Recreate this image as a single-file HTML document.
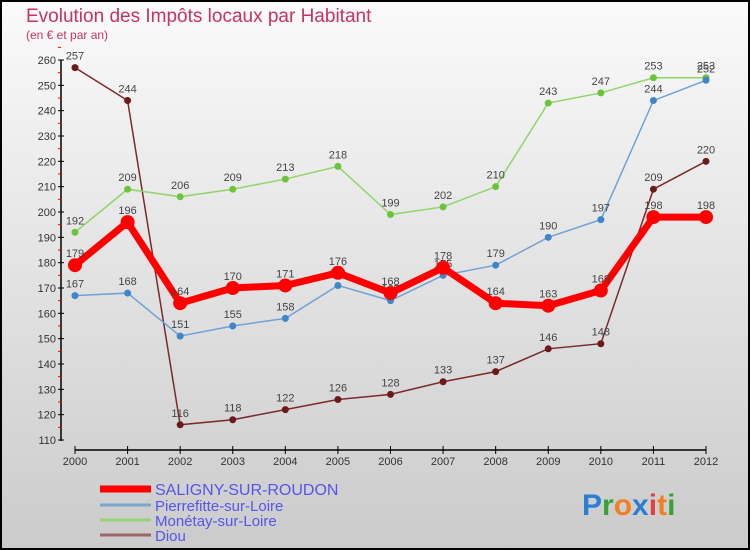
<!DOCTYPE html>
<html><head><meta charset="utf-8"><style>
body{margin:0}
#c{width:750px;height:550px;position:relative;box-sizing:border-box;border:2px solid #000;background:linear-gradient(#fafafa,#cbcbcb);font-family:"Liberation Sans",sans-serif;overflow:hidden}
</style></head><body>
<div id="c">
<svg id="s" width="750" height="550" style="position:absolute;left:-2px;top:-2px"></svg>
</div>
<script>
const years=["2000","2001","2002","2003","2004","2005","2006","2007","2008","2009","2010","2011","2012"];
const yTicks=[110,120,130,140,150,160,170,180,190,200,210,220,230,240,250,260];
const saligny=[179,196,164,170,171,176,168,178,164,163,169,198,198];
const pierrefitte=[167,168,151,155,158,171,165,175,179,190,197,244,252];
const monetay=[192,209,206,209,213,218,199,202,210,243,247,253,253];
const diou=[257,244,116,118,122,126,128,133,137,146,148,209,220];
const NS="http://www.w3.org/2000/svg";
const s=document.getElementById('s');
function X(i){return 75+i*(706-75)/12;}
function Y(v){return 440-(v-110)*380/150;}
function el(t,a,txt){const e=document.createElementNS(NS,t);for(const k in a)e.setAttribute(k,a[k]);if(txt!==undefined)e.textContent=txt;s.appendChild(e);return e;}
let e;
e=el('text',{x:26,y:22,fill:'#c8335f','font-size':19},'Evolution des Impôts locaux par Habitant');


e=el('text',{x:26,y:39,fill:'#c8335f','font-size':12},'(en € et par an)');


e=el('line',{x1:61,y1:60,x2:61,y2:441,stroke:'#000','stroke-width':1.5});


yTicks.forEach(v=>{
 el('line',{x1:58,y1:Y(v),x2:64,y2:Y(v),stroke:'#000'});
 el('line',{x1:58,y1:Y(v+5),x2:61,y2:Y(v+5),stroke:'#f00'});
 e=el('text',{x:56,y:Y(v)+4,'text-anchor':'end','font-size':11,fill:'#333'},v);
 
 
});
e=el('line',{x1:75,y1:450,x2:706,y2:450,stroke:'#000','stroke-width':1.5});


years.forEach((y,i)=>{
 el('line',{x1:X(i),y1:446,x2:X(i),y2:454,stroke:'#000'});
 e=el('text',{x:X(i),y:465,'text-anchor':'middle','font-size':11,fill:'#333'},y);
 
 
});
function series(d,color,w,r,name,dot){
 const g=document.createElementNS(NS,'g');s.appendChild(g);
 
 
 const pl=document.createElementNS(NS,'polyline');
 pl.setAttribute('points',d.map((v,i)=>X(i)+','+Y(v)).join(' '));
 pl.setAttribute('fill','none');pl.setAttribute('stroke',color);pl.setAttribute('stroke-width',w);
 g.appendChild(pl);
 d.forEach((v,i)=>{
  const c=document.createElementNS(NS,'circle');
  c.setAttribute('cx',X(i));c.setAttribute('cy',Y(v));c.setAttribute('r',r);c.setAttribute('fill',dot);
  
  
  g.appendChild(c);
  const t=document.createElementNS(NS,'text');
  t.setAttribute('x',X(i));t.setAttribute('y',Y(v)-8);t.setAttribute('text-anchor','middle');
  t.setAttribute('font-size',11);t.setAttribute('fill','#444');t.textContent=v;
  
  
  g.appendChild(t);
 });
}
series(diou,'#7a2a2a',1.5,3.5,'diou-series','#6a1a1a');
series(monetay,'#8fd66a',1.5,3.5,'monetay-series','#6cc43c');
series(pierrefitte,'#6fa3d6',1.5,3.5,'pierrefitte-series','#3e86c8');
series(saligny,'#f00',7,7,'saligny-series','#f00');
const leg=[["SALIGNY-SUR-ROUDON","#f00",7,16],["Pierrefitte-sur-Loire","#7aa6cc",3,16],["Monétay-sur-Loire","#95d27a",3,16],["Diou","#9a6666",3,16]];
const ly=[492,508,523,538];
leg.forEach((l,i)=>{
 e=el('line',{x1:100,y1:ly[i]-3,x2:151,y2:ly[i]-3,stroke:l[1],'stroke-width':l[2]});
 
 
 e=el('text',{x:155,y:ly[i]+3,'font-size':i==0?16:15,fill:'#5555ee'},l[0]);
 
 
});
e=el('text',{x:582,y:515,'font-size':30,'font-weight':'bold'});


[["P","#2a7fd4"],["r","#3aa03a"],["o","#f08020"],["x","#2a7fd4"],["i","#e04040"],["t","#f08020"],["i","#3aa03a"]].forEach(p=>{const t=document.createElementNS(NS,'tspan');t.setAttribute('fill',p[1]);t.textContent=p[0];e.appendChild(t);});
</script>
</body></html>
